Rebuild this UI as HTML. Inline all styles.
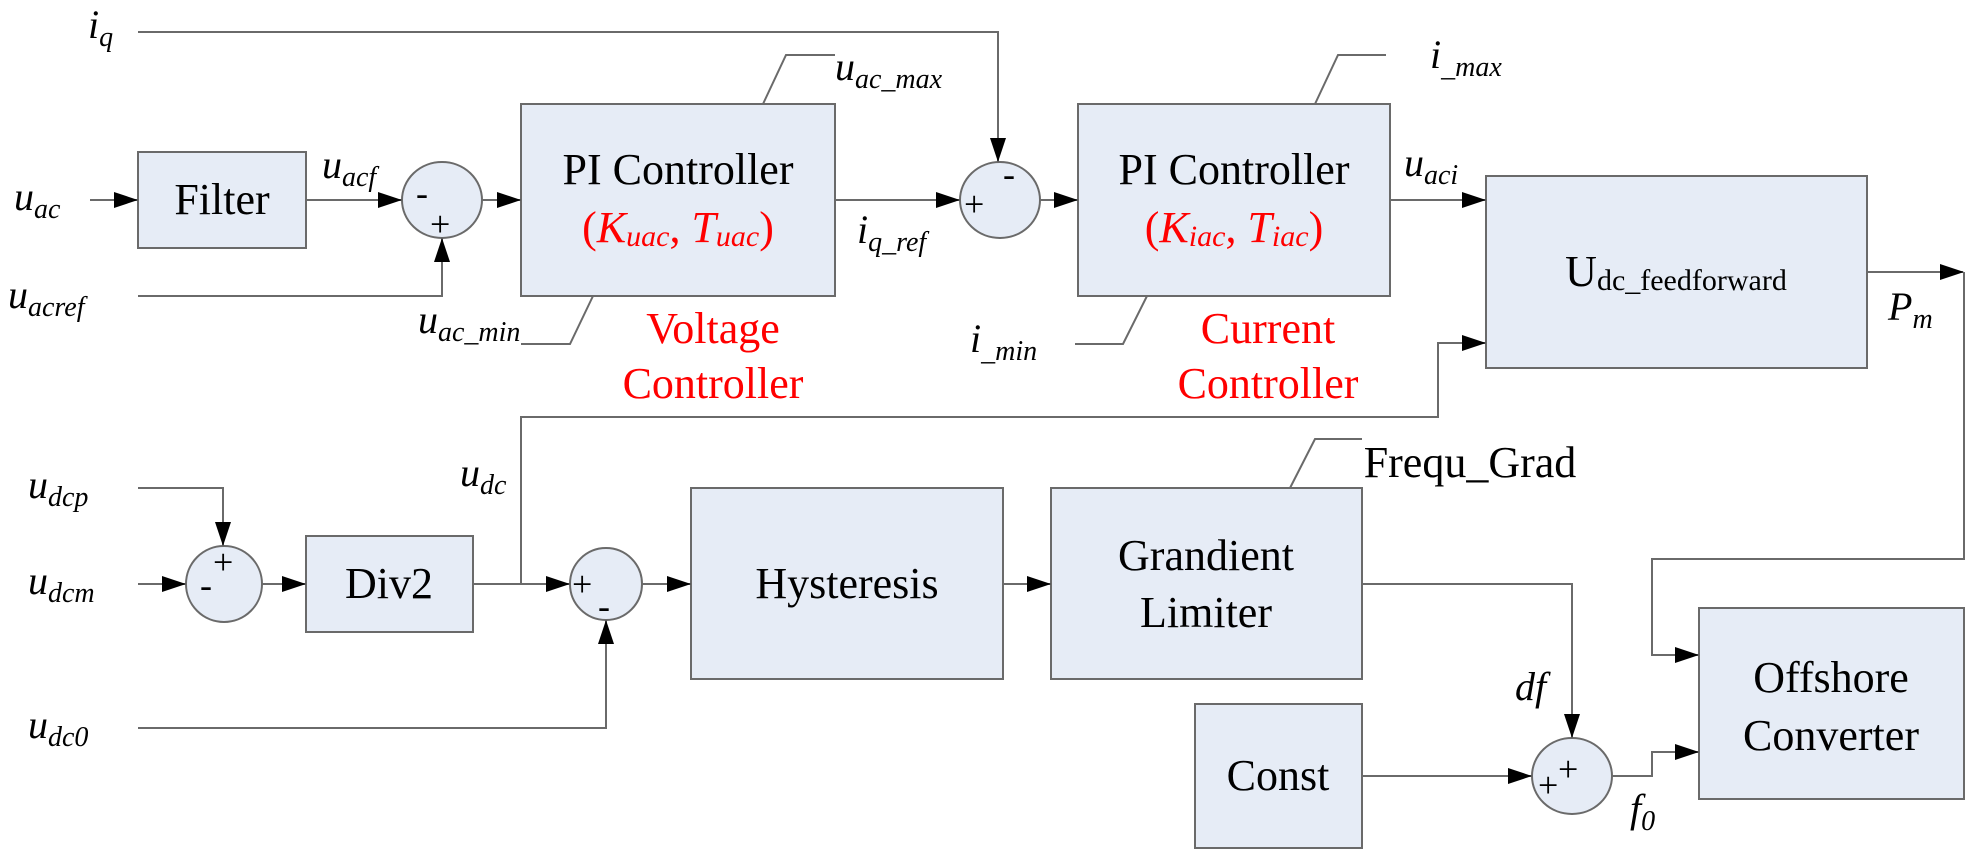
<!DOCTYPE html>
<html><head><meta charset="utf-8"><style>
html,body{margin:0;padding:0;background:#fff}
svg{display:block}
.b{fill:#e6ecf6;stroke:#6a6a6a;stroke-width:2}
.l{fill:none;stroke:#6a6a6a;stroke-width:2}
.t{font-size:44px;fill:#000}
.r{fill:#f00}
.i{font-style:italic;font-size:40px}
.s{font-size:28px;font-style:italic}
.p{font-size:36px}
</style></head><body>
<svg width="1980" height="862" viewBox="0 0 1980 862" xmlns="http://www.w3.org/2000/svg" font-family="'Liberation Serif','DejaVu Serif','Times New Roman',serif">
<defs><marker id="a" markerWidth="24" markerHeight="16" refX="23" refY="8" orient="auto" markerUnits="userSpaceOnUse"><path d="M0,0 L24,8 L0,16 Z" fill="#000"/></marker></defs>

<rect class="b" x="138" y="152" width="168" height="96"/>
<rect class="b" x="521" y="104" width="314" height="192"/>
<rect class="b" x="1078" y="104" width="312" height="192"/>
<rect class="b" x="1486" y="176" width="381" height="192"/>
<rect class="b" x="306" y="536" width="167" height="96"/>
<rect class="b" x="691" y="488" width="312" height="191"/>
<rect class="b" x="1051" y="488" width="311" height="191"/>
<rect class="b" x="1195" y="704" width="167" height="144"/>
<rect class="b" x="1699" y="608" width="265" height="191"/>

<ellipse class="b" cx="442" cy="200" rx="40" ry="38"/>
<ellipse class="b" cx="1000" cy="200" rx="40" ry="38"/>
<ellipse class="b" cx="224" cy="584" rx="38" ry="38"/>
<ellipse class="b" cx="606" cy="584" rx="36" ry="36"/>
<ellipse class="b" cx="1572" cy="776" rx="40" ry="38"/>

<path class="l" d="M90,200 H137" marker-end="url(#a)"/>
<path class="l" d="M306,200 H401" marker-end="url(#a)"/>
<path class="l" d="M138,296 H442 V239" marker-end="url(#a)"/>
<path class="l" d="M482,200 H520" marker-end="url(#a)"/>
<path class="l" d="M835,200 H959" marker-end="url(#a)"/>
<path class="l" d="M138,32 H998 V161" marker-end="url(#a)"/>
<path class="l" d="M1040,200 H1077" marker-end="url(#a)"/>
<path class="l" d="M1390,200 H1485" marker-end="url(#a)"/>
<path class="l" d="M1867,272 H1963" marker-end="url(#a)"/>
<path class="l" d="M1964,272 V559 H1652 V655 H1698" marker-end="url(#a)"/>
<path class="l" d="M763,104 L786,55 H835"/>
<path class="l" d="M593,296 L570,344 H521"/>
<path class="l" d="M1315,104 L1338,55 H1386"/>
<path class="l" d="M1147,296 L1123,344 H1075"/>
<path class="l" d="M1290,488 L1315,439 H1362"/>
<path class="l" d="M138,488 H223 V545" marker-end="url(#a)"/>
<path class="l" d="M138,584 H185" marker-end="url(#a)"/>
<path class="l" d="M262,584 H305" marker-end="url(#a)"/>
<path class="l" d="M473,584 H569" marker-end="url(#a)"/>
<path class="l" d="M521,584 V417 H1438 V343 H1485" marker-end="url(#a)"/>
<path class="l" d="M138,728 H606 V621" marker-end="url(#a)"/>
<path class="l" d="M642,584 H690" marker-end="url(#a)"/>
<path class="l" d="M1003,584 H1050" marker-end="url(#a)"/>
<path class="l" d="M1362,584 H1572 V737" marker-end="url(#a)"/>
<path class="l" d="M1362,776 H1531" marker-end="url(#a)"/>
<path class="l" d="M1612,776 H1652 V752 H1698" marker-end="url(#a)"/>

<g class="p">
<text x="416" y="205">-</text><text x="430" y="236">+</text>
<text x="964" y="216">+</text><text x="1003" y="186">-</text>
<text x="200" y="597">-</text><text x="213" y="574">+</text>
<text x="572" y="596">+</text><text x="598" y="618">-</text>
<text x="1538" y="797">+</text><text x="1558" y="781">+</text>
</g>

<g class="t" text-anchor="middle">
<text x="222" y="214">Filter</text>
<text x="678" y="184">PI Controller</text>
<text x="678" y="242" class="r">(<tspan font-style="italic">K</tspan><tspan font-style="italic" font-size="30" dy="4">uac</tspan><tspan dy="-4">, </tspan><tspan font-style="italic">T</tspan><tspan font-style="italic" font-size="30" dy="4">uac</tspan><tspan dy="-4">)</tspan></text>
<text x="1234" y="184">PI Controller</text>
<text x="1234" y="242" class="r">(<tspan font-style="italic">K</tspan><tspan font-style="italic" font-size="30" dy="4">iac</tspan><tspan dy="-4">, </tspan><tspan font-style="italic">T</tspan><tspan font-style="italic" font-size="30" dy="4">iac</tspan><tspan dy="-4">)</tspan></text>
<text x="1676" y="286">U<tspan font-size="30" dy="4">dc_feedforward</tspan></text>
<text x="389" y="598">Div2</text>
<text x="847" y="598">Hysteresis</text>
<text x="1206" y="570">Grandient</text>
<text x="1206" y="627">Limiter</text>
<text x="1278" y="790">Const</text>
<text x="1831" y="692">Offshore</text>
<text x="1831" y="750">Converter</text>
<text x="713" y="343" class="r">Voltage</text>
<text x="713" y="398" class="r">Controller</text>
<text x="1268" y="343" class="r">Current</text>
<text x="1268" y="398" class="r">Controller</text>
<text x="1470" y="477">Frequ_Grad</text>
</g>

<g class="i">
<text x="88" y="38">i<tspan class="s" dy="8">q</tspan></text>
<text x="14" y="210">u<tspan class="s" dy="8">ac</tspan></text>
<text x="8" y="308">u<tspan class="s" dy="8">acref</tspan></text>
<text x="322" y="178">u<tspan class="s" dy="8">acf</tspan></text>
<text x="835" y="80">u<tspan class="s" dy="8">ac_max</tspan></text>
<text x="418" y="333">u<tspan class="s" dy="8">ac_min</tspan></text>
<text x="857" y="243">i<tspan class="s" dy="8">q_ref</tspan></text>
<text x="1430" y="68">i<tspan class="s" dy="8">_max</tspan></text>
<text x="970" y="352">i<tspan class="s" dy="8">_min</tspan></text>
<text x="1404" y="176">u<tspan class="s" dy="8">aci</tspan></text>
<text x="1888" y="320">P<tspan class="s" dy="8">m</tspan></text>
<text x="460" y="486">u<tspan class="s" dy="8">dc</tspan></text>
<text x="28" y="498">u<tspan class="s" dy="8">dcp</tspan></text>
<text x="28" y="594">u<tspan class="s" dy="8">dcm</tspan></text>
<text x="28" y="738">u<tspan class="s" dy="8">dc0</tspan></text>
<text x="1515" y="700">df</text>
<text x="1630" y="822">f<tspan class="s" dy="8">0</tspan></text>
</g>
</svg>
</body></html>
